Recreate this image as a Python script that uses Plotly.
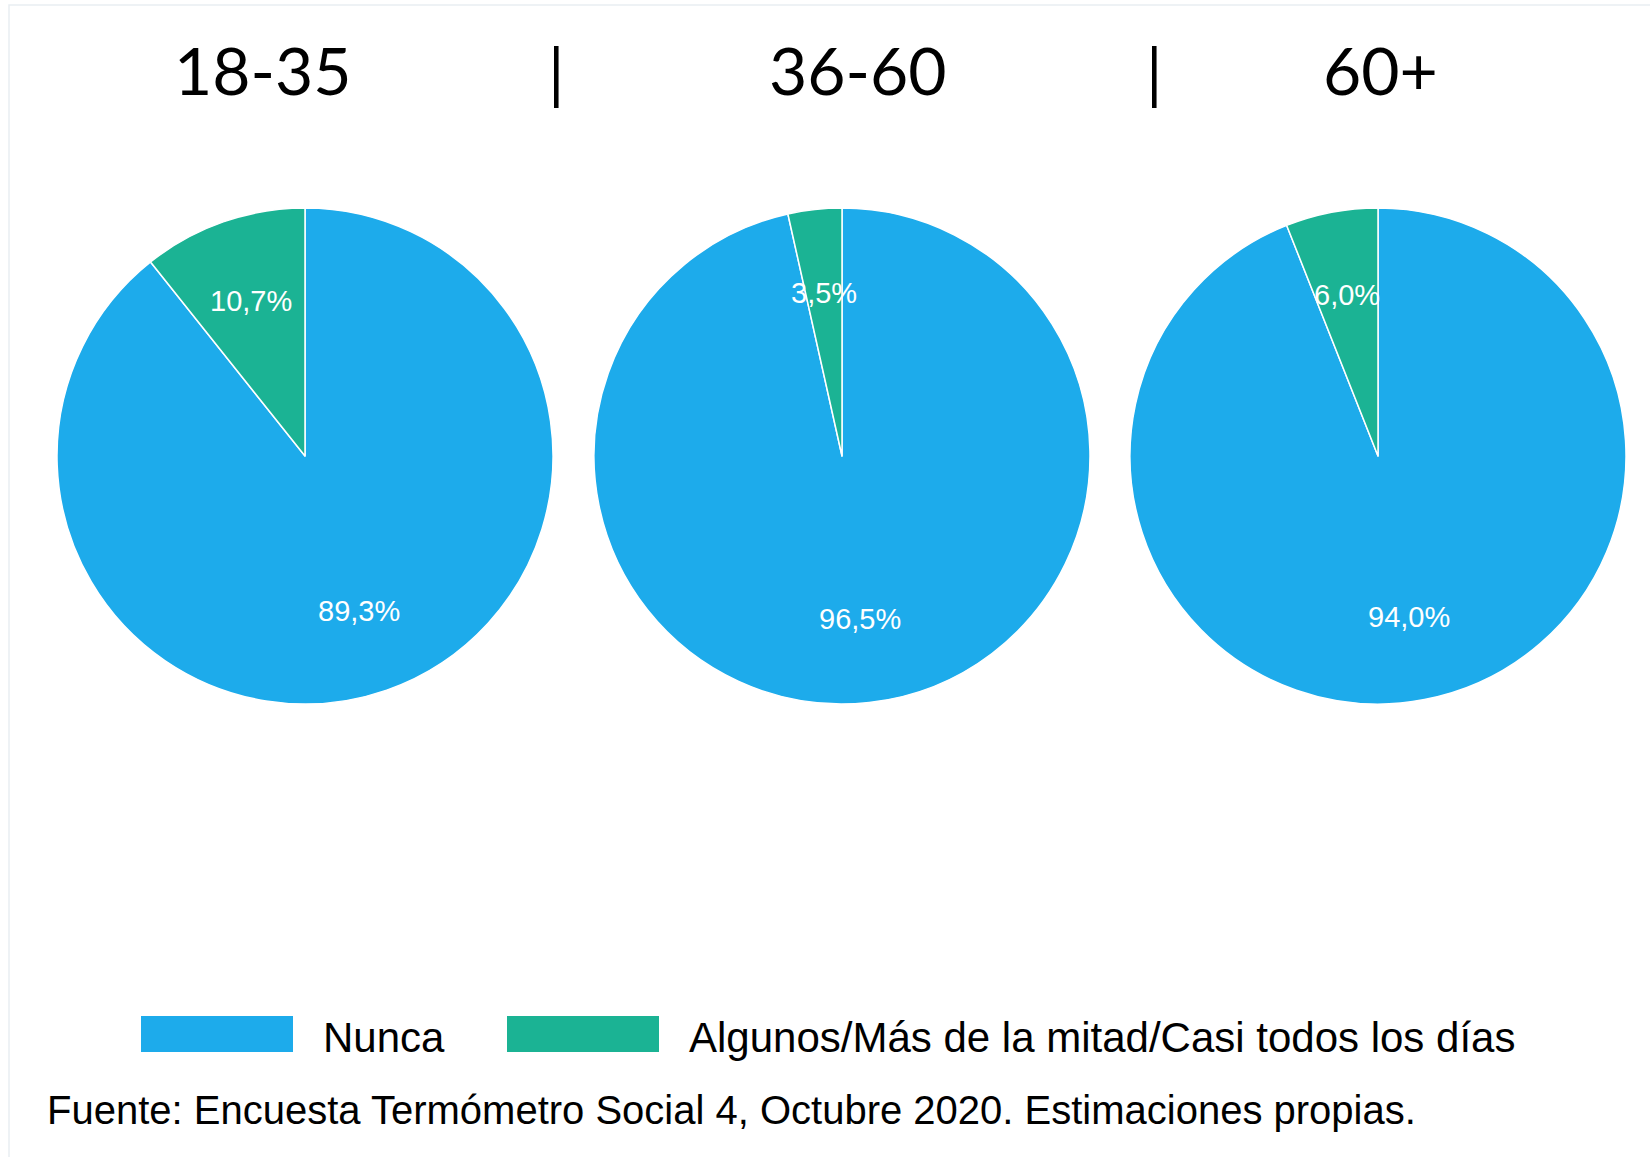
import math
import plotly.graph_objects as go

W, H = 1650, 1157

groups = ["18-35", "36-60", "60+"]
categories = ["Nunca", "Algunos/Más de la mitad/Casi todos los días"]
nunca = [89.3, 96.5, 94.0]
algunos = [10.7, 3.5, 6.0]
colors = ["#1DABEB", "#1BB394"]
source = "Fuente: Encuesta Termómetro Social 4, Octubre 2020. Estimaciones propias."


def px_x(p):
    return p / W


def px_y(p):
    return 1 - p / H


def fmt(v):
    return f"{v:.1f}".replace(".", ",") + "%"


def note(x, y, text, size, color="black", family="Liberation Sans, Arial", xanchor="center"):
    return dict(x=px_x(x), y=px_y(y), xref="paper", yref="paper",
                xanchor=xanchor, yanchor="middle", text=text, showarrow=False,
                font=dict(family=family, size=size, color=color))


# pie geometry in pixels
centers_x = [305, 842, 1378]
center_y = 456
radius = 248
title_x = [263, 858, 1380]
sep_x = [556, 1154]
title_font = "Lato, Carlito, Calibri"

fig = go.Figure()
annotations = []

for i, g in enumerate(groups):
    vals = [nunca[i], algunos[i]]
    cx = centers_x[i]
    fig.add_trace(go.Pie(
        labels=categories,
        values=vals,
        sort=False,
        direction="clockwise",
        rotation=0,
        marker=dict(colors=colors, line=dict(color="white", width=1.5)),
        textinfo="none",
        hoverinfo="label+percent",
        showlegend=False,
        domain=dict(x=[px_x(cx - radius), px_x(cx + radius)],
                    y=[px_y(center_y + radius), px_y(center_y - radius)]),
    ))
    # data labels placed along each slice's middle angle
    total = sum(vals)
    cum = 0
    for v in vals:
        mid = (cum + v / 2) / total * 2 * math.pi
        cum += v
        lx = cx + 0.66 * radius * math.sin(mid)
        ly = center_y - 0.66 * radius * math.cos(mid)
        annotations.append(note(lx, ly, fmt(v), 29, color="white"))
    annotations.append(note(title_x[i], 70, g, 66, family=title_font))

for sx in sep_x:
    annotations.append(note(sx, 72, "|", 66, family=title_font))

# legend drawn by hand to get the wide swatches
shapes = [dict(type="rect", xref="paper", yref="paper",
               x0=px_x(9), x1=px_x(1660), y0=px_y(1170), y1=px_y(5),
               line=dict(color="#e9eef2", width=1.5), fillcolor="rgba(0,0,0,0)")]
legend_box_x = [141, 507]
legend_text_x = [321, 687]
for k, cat in enumerate(categories):
    shapes.append(dict(type="rect", xref="paper", yref="paper",
                       x0=px_x(legend_box_x[k]), x1=px_x(legend_box_x[k] + 152),
                       y0=px_y(1052), y1=px_y(1016),
                       fillcolor=colors[k], line=dict(width=0)))
    annotations.append(note(legend_text_x[k], 1037, cat, 42, xanchor="left"))

annotations.append(note(45, 1110, source, 40, xanchor="left"))

fig.update_layout(
    width=W, height=H,
    margin=dict(l=0, r=0, t=0, b=0),
    paper_bgcolor="white",
    plot_bgcolor="white",
    annotations=annotations,
    shapes=shapes,
)

fig.write_html("out.html", config={"displayModeBar": False},
               post_script="document.body.style.margin = '0';")
